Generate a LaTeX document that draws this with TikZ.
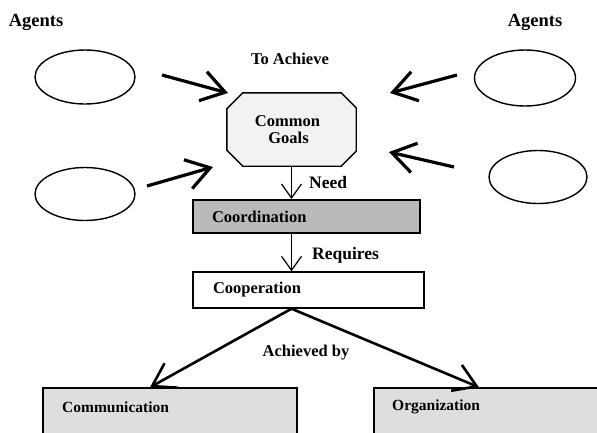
\documentclass[tikz,border=0pt]{standalone}
\usepackage{fontspec}
\setmainfont{Liberation Serif}
\usetikzlibrary{arrows.meta,shapes.geometric,backgrounds}
\begin{document}
\begin{tikzpicture}[x=1pt,y=-1pt,
  agent/.style={ellipse,draw,line width=1.4pt,fill=white,inner sep=0pt},
  lbl/.style={font=\bfseries\fontsize{16.5}{18}\selectfont,inner sep=0pt},
  meanslbl/.style={font=\bfseries\fontsize{15.5}{18}\selectfont,inner sep=0pt},
  boxnode/.style={rectangle,draw,line width=1.4pt,inner ysep=0pt,align=left,
    font=\bfseries\fontsize{16.5}{18}\selectfont},
  meansbox/.style={rectangle,draw,line width=1.4pt,fill=black!13,
    minimum height=57pt,inner sep=0pt},
  agentarrow/.style={line width=3.2pt,-{Straight Barb[length=23pt,width=30pt]}},
  thinarrow/.style={line width=1.2pt,-{Straight Barb[length=14pt,width=20pt]}},
  splitarrow/.style={line width=2.6pt,-{Straight Barb[length=22pt,width=28pt]}}
]
\useasboundingbox (0,0) rectangle (597,432);
\clip (0,0) rectangle (597,432);

% headings
\node[lbl,font=\bfseries\fontsize{18.5}{20}\selectfont] (agL) at (36,22) {Agents};
\node[lbl,font=\bfseries\fontsize{18.5}{20}\selectfont] (agR) at (535,22) {Agents};
\node[lbl] (toach) at (290,59) {To Achieve};

% agents
\node[agent,minimum width=100pt,minimum height=54pt] (e1) at (85,77) {};
\node[agent,minimum width=100pt,minimum height=53pt] (e2) at (85,194) {};
\node[agent,minimum width=101pt,minimum height=56pt] (e3) at (525,78) {};
\node[agent,minimum width=98pt,minimum height=53pt] (e4) at (538,177) {};

% common goals: text node with an octagon drawn behind it
\node[rectangle,minimum width=129pt,minimum height=73pt,inner sep=0pt,
  align=center,font=\bfseries\fontsize{16.5}{18}\selectfont] (goals) at (291.5,129.5)
  {\hspace*{-8pt}Common\\[-1pt]\hspace*{-6pt}Goals};
\begin{scope}[on background layer]
\filldraw[line width=1.4pt,fill=black!5]
  ([xshift=16pt]goals.north west) -- ([xshift=-15pt]goals.north east)
  -- ([yshift=-15pt]goals.north east) -- ([yshift=15pt]goals.south east)
  -- ([xshift=-15pt]goals.south east) -- ([xshift=16pt]goals.south west)
  -- ([yshift=16pt]goals.south west) -- ([yshift=-16pt]goals.north west) -- cycle;
\end{scope}

% chain of boxes
\node[boxnode,fill=black!27,line width=2pt,inner xsep=19pt,text width=189pt,
  minimum height=33pt] (coord) at (306.5,216.5) {Coordination};
\node[boxnode,fill=white,inner xsep=20pt,text width=191pt,
  minimum height=36pt] (coop) at (308.5,290) {Cooperation};

\node[meansbox,minimum width=254pt] (comm) at (170,416.5) {};
\node[meansbox,minimum width=266pt] (org) at (507,416.5) {};
\node[meanslbl,anchor=west] (commtxt) at (62,407) {Communication};
\node[meanslbl,anchor=west] (orgtxt) at (392,407) {Organization};

% connector labels
\node[lbl,font=\bfseries\fontsize{17.5}{19}\selectfont,anchor=west] (need) at (309,183) {Need};
\node[lbl,font=\bfseries\fontsize{17.5}{19}\selectfont,anchor=west] (req) at (312,255) {Requires};
\node[lbl] (achby) at (306,353) {Achieved by};

% agent arrows
\coordinate (a1s) at (162,75);  \coordinate (a1t) at (228,93);
\coordinate (a2s) at (147,186); \coordinate (a2t) at (213,167);
\coordinate (a3s) at (457,75);  \coordinate (a3t) at (390,93);
\coordinate (a4s) at (454,167); \coordinate (a4t) at (389,152);
\draw[agentarrow] (a1s) -- (a1t);
\draw[agentarrow] (a2s) -- (a2t);
\draw[agentarrow] (a3s) -- (a3t);
\draw[agentarrow] (a4s) -- (a4t);

% vertical chain
\draw[thinarrow] (goals.south) -- (goals.south |- coord.north);
\draw[thinarrow] (goals.south |- coord.south) -- (goals.south |- coop.north);

% split to the two means
\coordinate (apex) at (goals.south |- coop.south);
\draw[splitarrow] (apex) -- ([xshift=-20pt]comm.north);
\draw[splitarrow] (apex) -- ([xshift=-28pt]org.north);
\end{tikzpicture}
\end{document}
